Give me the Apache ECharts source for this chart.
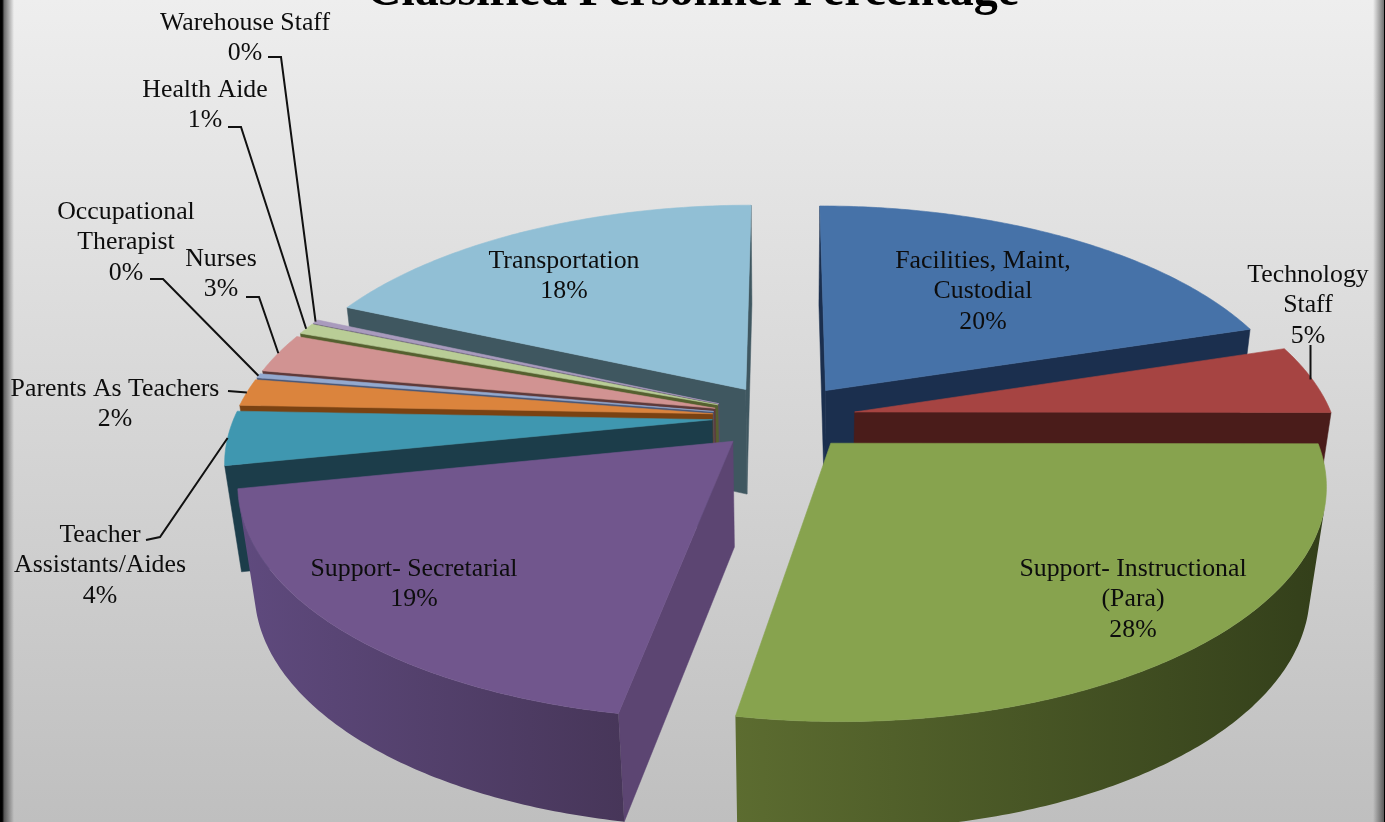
<!DOCTYPE html>
<html>
<head>
<meta charset="utf-8">
<style>html,body{margin:0;padding:0;background:#ddd}#chart{width:1385px;height:822px}</style>
<script src="https://cdn.jsdelivr.net/npm/echarts@6/dist/echarts.min.js"></script>
</head>
<body>
<div id="chart"></div>
<script>
// Staff groups, clockwise from twelve o'clock
const categories = ['Facilities, Maint,\nCustodial', 'Technology\nStaff', 'Support- Instructional\n(Para)',
  'Support- Secretarial', 'Teacher\nAssistants/Aides', 'Parents As Teachers', 'Occupational\nTherapist',
  'Nurses', 'Health Aide', 'Warehouse Staff', 'Transportation'];
// Share of classified personnel, in percent
const shares = [20.2, 4.9, 27.9, 19, 3.8, 1.9, 0.3, 2.8, 0.8, 0.3, 18.35];

// Colours of each wedge: top face, cut faces, outer wall (light to dark)
const topColors = ['#4672A8', '#A64442', '#87A34E', '#71568D', '#3F97B0', '#DB843D', '#93A9CF', '#D19392', '#B9CD96', '#A99BBD', '#91BFD5'];
const cutColors = ['#1B2F4E', '#4A1C1A', '#4F5E28', '#5C4572', '#1C3D4A', '#7A4212', '#4A5878', '#5E3A3A', '#55602F', '#574C68', '#3F5760'];
const wallStart = ['#2A4670', '#5C2220', '#5C6C30', '#5F4A7E', '#1C3D4A', '#7A4212', '#4A5878', '#5E3A3A', '#55602F', '#574C68', '#3F5760'];
const wallEnd = ['#1B2F4E', '#4A1C1A', '#333F1A', '#473659', '#1C3D4A', '#7A4212', '#4A5878', '#5E3A3A', '#55602F', '#574C68', '#3F5760'];

// Pie projection
const view = { cx: 784, cy: 417, rx: 478, ry: 223, depth: 111, persp: 0.1645, sinkX: 0.03, sinkY: 0.055, explode: 0.15 };

// Where each label block sits (centre x, first line centre y)
const labelAt = [[983, 261], [1308, 275], [1133, 569], [414, 569], [100, 535], [115, 389], [126, 212], [221, 259], [205, 90], [245, 23], [564, 261]];
// Leader lines start at the label and finish on the wedge rim
const leaderFrom = {
  1: [[1310.5, 345]],
  4: [[146, 540], [160, 537]],
  5: [[228, 391]],
  6: [[150, 279], [163, 279]],
  7: [[246, 297], [259, 297]],
  8: [[228, 127], [241, 127]],
  9: [[268, 57], [281, 57]]
};

const total = shares.reduce((a, b) => a + b, 0);
const wedges = [];
shares.reduce((from, v, i) => {
  const to = from + v / total * Math.PI * 2;
  wedges.push({ i, from, to, mid: (from + to) / 2 });
  return to;
}, 0);

function planar(angle, radius, mid) {
  const e = view.explode;
  return [radius * Math.sin(angle) + e * Math.sin(mid), -radius * Math.cos(angle) - e * Math.cos(mid)];
}
function upper(p) {
  const s = 1 / (1 - view.persp * p[1]);
  return [view.cx + view.rx * p[0] * s, view.cy + view.ry * p[1] * s];
}
function lower(p) {
  const base = 1 - view.persp * p[1];
  return [view.cx + view.rx * p[0] / (base + view.sinkX), view.cy + (view.ry * p[1] + view.depth) / (base + view.sinkY)];
}
function facesViewer(a, b, below) {
  return (b[0] - a[0]) * (below[1] - a[1]) - (b[1] - a[1]) * (below[0] - a[0]) < 0;
}

function renderWedge(params, api) {
  const w = wedges[api.value(0)];
  const color = topColors[w.i], cut = cutColors[w.i];
  const apex = planar(0, 0, w.mid);
  const steps = Math.max(4, Math.ceil((w.to - w.from) / 0.012));
  const rim = [];
  for (let k = 0; k <= steps; k++) rim.push(planar(w.from + (w.to - w.from) * k / steps, 1, w.mid));

  const children = [];
  const quad = (u, v, fill) => children.push({
    type: 'polygon', silent: true,
    shape: { points: [upper(u), upper(v), lower(v), lower(u)] },
    style: { fill, stroke: fill, lineWidth: 0.5 }
  });
  // Flat cut faces along the two radii
  if (facesViewer(upper(apex), upper(rim[0]), lower(apex))) quad(apex, rim[0], cut);
  if (facesViewer(upper(rim[steps]), upper(apex), lower(rim[steps]))) quad(rim[steps], apex, cut);
  // Curved outer wall, only the run that faces the viewer
  const seen = [];
  for (let k = 0; k < steps; k++) {
    if (facesViewer(upper(rim[k]), upper(rim[k + 1]), lower(rim[k]))) {
      if (!seen.length) seen.push(rim[k]);
      seen.push(rim[k + 1]);
    }
  }
  if (seen.length > 1) {
    children.push({
      type: 'polygon', silent: true,
      shape: { points: seen.map(upper).concat(seen.map(lower).reverse()) },
      style: {
        stroke: null,
        fill: new echarts.graphic.LinearGradient(0, 0, 1, 0, [
          { offset: 0, color: wallStart[w.i] }, { offset: 1, color: wallEnd[w.i] }
        ])
      }
    });
  }
  // Top face
  children.push({
    type: 'polygon', silent: true,
    shape: { points: [upper(apex)].concat(rim.map(upper)) },
    style: { fill: color, stroke: color, lineWidth: 0.6 }
  });
  return { type: 'group', children };
}

function renderLeader(params, api) {
  const i = api.value(0);
  const w = wedges[i];
  const end = upper(planar(w.mid, 1, w.mid));
  let pts = leaderFrom[i].concat([end]);
  if (i === 1) pts = [leaderFrom[i][0], [leaderFrom[i][0][0], end[1]]];
  return {
    type: 'polyline', silent: true,
    shape: { points: pts },
    style: { fill: null, stroke: '#111', lineWidth: 2 }
  };
}

function renderLabel(params, api) {
  const i = api.value(0);
  const pct = Math.round(shares[i] / total * 100);
  return {
    type: 'text', silent: true,
    x: labelAt[i][0], y: labelAt[i][1] - 15,
    style: {
      text: categories[i] + '\n' + pct + '%',
      font: '25.8px "Liberation Serif"',
      lineHeight: 30.4,
      fill: '#0D0D0D',
      align: 'center',
      verticalAlign: 'top'
    }
  };
}

// Far wedges are painted first so nearer ones cover them
const paintOrder = [10, 0, 1, 9, 8, 7, 6, 5, 4, 3, 2];
const chart = echarts.init(document.getElementById('chart'), null, { renderer: 'canvas' });
chart.setOption({
  animation: false,
  backgroundColor: {
    type: 'linear', x: 0, y: 0, x2: 0, y2: 1,
    colorStops: [{ offset: 0, color: '#EEEEEE' }, { offset: 1, color: '#BFBFBF' }]
  },
  title: {
    text: 'Classified Personnel Percentage',
    left: 688, textAlign: 'center', top: -36,
    textStyle: { fontFamily: 'Liberation Serif', fontSize: 48, fontWeight: 'bold', color: '#000' }
  },
  graphic: [
    { type: 'rect', shape: { x: 0, y: 0, width: 14, height: 822 }, silent: true, z: 100,
      style: { fill: new echarts.graphic.LinearGradient(0, 0, 1, 0, [
        { offset: 0, color: 'rgba(0,0,0,1)' }, { offset: 0.16, color: 'rgba(0,0,0,1)' },
        { offset: 0.3, color: 'rgba(0,0,0,0.55)' }, { offset: 1, color: 'rgba(0,0,0,0)' }]) } },
    { type: 'rect', shape: { x: 1373, y: 0, width: 12, height: 822 }, silent: true, z: 100,
      style: { fill: new echarts.graphic.LinearGradient(0, 0, 1, 0, [
        { offset: 0, color: 'rgba(0,0,0,0)' }, { offset: 0.88, color: 'rgba(0,0,0,0.5)' },
        { offset: 0.9, color: 'rgba(0,0,0,1)' }, { offset: 1, color: 'rgba(0,0,0,1)' }]) } }
  ],
  series: [
    { type: 'custom', coordinateSystem: 'none', renderItem: renderWedge, clip: false, silent: true, z: 2,
      data: paintOrder.map(i => [i]) },
    { type: 'custom', coordinateSystem: 'none', renderItem: renderLeader, clip: false, silent: true, z: 3,
      data: Object.keys(leaderFrom).map(k => [Number(k)]) },
    { type: 'custom', coordinateSystem: 'none', renderItem: renderLabel, clip: false, silent: true, z: 4,
      data: categories.map((c, i) => [i]) }
  ]
});
</script>
</body>
</html>
